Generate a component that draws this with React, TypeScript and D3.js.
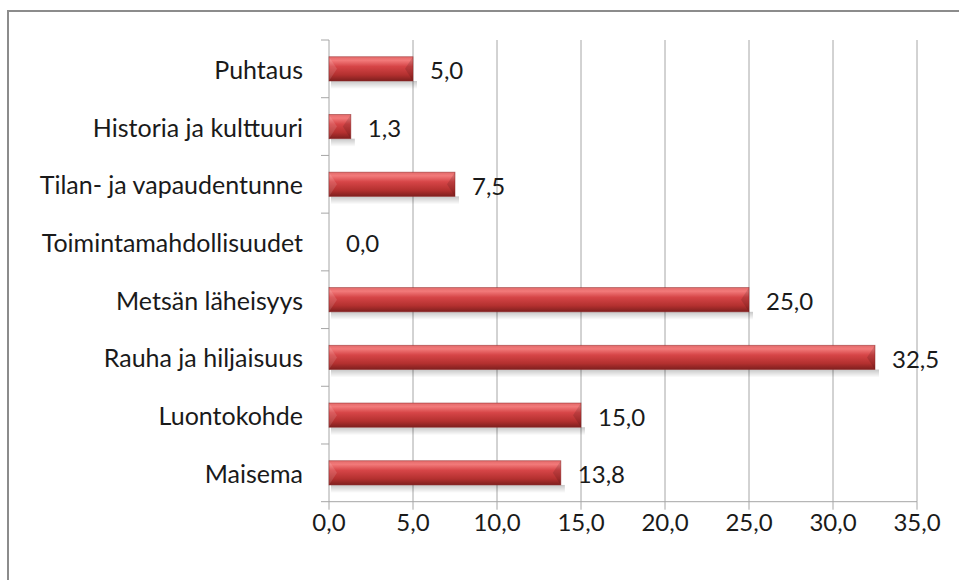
import React from "react";
import * as d3 from "d3";

const categories = [
  "Puhtaus",
  "Historia ja kulttuuri",
  "Tilan- ja vapaudentunne",
  "Toimintamahdollisuudet",
  "Metsän läheisyys",
  "Rauha ja hiljaisuus",
  "Luontokohde",
  "Maisema",
];
const values = [5.0, 1.3, 7.5, 0.0, 25.0, 32.5, 15.0, 13.8];
const xTicks = [0, 5, 10, 15, 20, 25, 30, 35];

const W = 959;
const H = 580;
const left = 329;
const right = 917;
const top = 40;
const bottom = 501.7;
const FONT = "Lato, 'Open Sans', sans-serif";
const FS = 24;
const fmt = (v: number) => v.toFixed(1).replace(".", ",");

export default function App() {
  const x = d3.scaleLinear().domain([0, 35]).range([left, right]);
  const y = d3
    .scaleBand<string>()
    .domain(categories)
    .range([top, bottom])
    .paddingInner(0.58)
    .paddingOuter(0.29);
  const step = y.step();
  const bh = y.bandwidth();
  const grid = "#a6a6a6";

  return (
    <svg
      width={W}
      height={H}
      style={{ position: "absolute", left: 0, top: 0, background: "#fff" }}
    >
      <defs>
        <linearGradient id="barGrad" x1="0" y1="0" x2="0" y2="1">
          <stop offset="0" stopColor="#e36a6a" />
          <stop offset="0.15" stopColor="#f27a7a" />
          <stop offset="0.4" stopColor="#d64547" />
          <stop offset="0.75" stopColor="#b3302f" />
          <stop offset="1" stopColor="#7e1f1e" />
        </linearGradient>
        <linearGradient id="shadowGrad" x1="0" y1="0" x2="0" y2="1">
          <stop offset="0" stopColor="#000" stopOpacity="0.22" />
          <stop offset="1" stopColor="#000" stopOpacity="0" />
        </linearGradient>
      </defs>
      <rect x={0} y={0} width={W} height={H} fill="#fff" />
      <rect
        x={8}
        y={11}
        width={W + 20}
        height={H + 20}
        fill="none"
        stroke="#8c8c8c"
        strokeWidth={2}
      />
      {xTicks.slice(1).map((t) => (
        <line
          key={"g" + t}
          x1={x(t)}
          x2={x(t)}
          y1={top}
          y2={bottom}
          stroke={grid}
          strokeWidth={1}
        />
      ))}
      <line x1={left} x2={right} y1={bottom} y2={bottom} stroke={grid} />
      {xTicks.map((t) => (
        <g key={"t" + t}>
          <line
            x1={x(t)}
            x2={x(t)}
            y1={bottom}
            y2={bottom + 8}
            stroke={grid}
          />
          <text
            x={x(t)}
            y={521}
            textAnchor="middle"
            dominantBaseline="central"
            fontFamily={FONT}
            fontSize={FS}
            fill="#1a1a1a"
          >
            {fmt(t)}
          </text>
        </g>
      ))}
      <line x1={left} x2={left} y1={top} y2={bottom} stroke={grid} />
      {d3.range(categories.length + 1).map((i) => (
        <line
          key={"ct" + i}
          x1={left - 8}
          x2={left}
          y1={top + i * step}
          y2={top + i * step}
          stroke={grid}
        />
      ))}
      {categories.map((c) => (
        <text
          key={"cl" + c}
          x={303}
          y={(y(c) as number) + bh / 2}
          textAnchor="end"
          dominantBaseline="central"
          fontFamily={FONT}
          fontSize={25}
          fill="#1a1a1a"
        >
          {c}
        </text>
      ))}
      {categories.map((c, i) => {
        const v = values[i];
        const y0 = y(c) as number;
        const x0 = x(0);
        const x1 = x(v);
        const w = x1 - x0;
        const bev = Math.min(8, w / 2);
        return (
          <g key={"b" + c}>
            {w > 0 && (
              <>
                <rect
                  x={x0 + 2}
                  y={y0 + bh}
                  width={w + 2}
                  height={8}
                  fill="url(#shadowGrad)"
                />
                <rect x={x0} y={y0} width={w} height={bh} fill="url(#barGrad)" />
                <polygon
                  points={`${x0},${y0} ${x0 + bev},${y0 + bh / 2} ${x0},${y0 + bh}`}
                  fill="#fff"
                  opacity={0.12}
                />
                <polygon
                  points={`${x1},${y0} ${x1 - bev},${y0 + bh / 2} ${x1},${y0 + bh}`}
                  fill="#000"
                  opacity={0.12}
                />
                <rect
                  x={x0}
                  y={y0}
                  width={w}
                  height={bh}
                  fill="none"
                  stroke="#8a2223"
                  strokeWidth={0.8}
                  opacity={0.6}
                />
              </>
            )}
            <text
              x={x1 + 17}
              y={y0 + bh / 2 + 1}
              dominantBaseline="central"
              fontFamily={FONT}
              fontSize={FS}
              fill="#1a1a1a"
            >
              {fmt(v)}
            </text>
          </g>
        );
      })}
    </svg>
  );
}
